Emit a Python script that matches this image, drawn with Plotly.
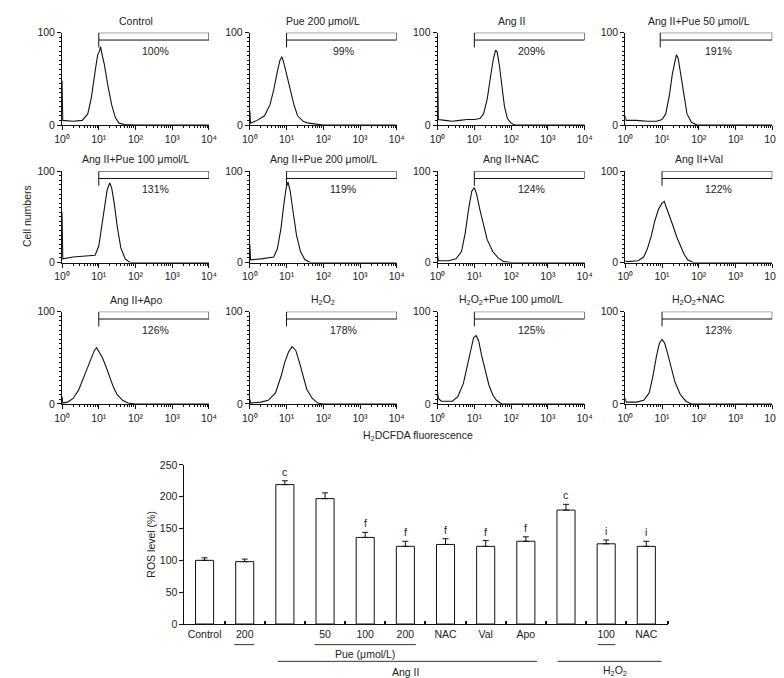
import plotly.graph_objects as go
import math

W, H = 784, 678

# ---------------- histogram data (x in log10 fluorescence, y = cell count %) ----------------
panel_titles = ["Control", "Pue 200 μmol/L", "Ang II", "Ang II+Pue 50 μmol/L",
                "Ang II+Pue 100 μmol/L", "Ang II+Pue 200 μmol/L", "Ang II+NAC", "Ang II+Val",
                "Ang II+Apo", "H<sub>2</sub>O<sub>2</sub>", "H<sub>2</sub>O<sub>2</sub>+Pue 100 μmol/L",
                "H<sub>2</sub>O<sub>2</sub>+NAC"]
panel_pct = ["100%", "99%", "209%", "191%", "131%", "119%", "124%", "122%", "126%", "178%", "125%", "123%"]

hx_control = [0, 0.02, 0.3, 0.55, 0.7, 0.8, 0.9, 0.97, 1.02, 1.05, 1.08, 1.15, 1.25, 1.35, 1.45, 1.55, 1.7, 2.0, 4.0]
hy_control = [48, 5, 4, 5, 12, 30, 58, 76, 80, 85, 78, 66, 42, 22, 8, 2, 0.5, 0, 0]
hx_pue200 = [0, 0.02, 0.2, 0.4, 0.55, 0.65, 0.75, 0.82, 0.87, 0.92, 1.0, 1.1, 1.2, 1.3, 1.45, 1.6, 1.8, 2.0, 4]
hy_pue200 = [15, 2, 5, 10, 22, 38, 58, 70, 74, 68, 55, 38, 22, 10, 4, 2, 1, 0, 0]
hx_ang = [0, 0.02, 0.2, 0.4, 0.6, 0.8, 1.0, 1.15, 1.25, 1.35, 1.45, 1.52, 1.58, 1.62, 1.68, 1.75, 1.82, 1.9, 2.0, 2.1, 4]
hy_ang = [60, 6, 5, 4, 5, 6, 6, 7, 12, 28, 55, 72, 81, 79, 65, 42, 20, 7, 2, 0, 0]
hx_ang_pue50 = [0, 0.02, 0.3, 0.6, 0.85, 1.0, 1.1, 1.2, 1.28, 1.35, 1.39, 1.44, 1.5, 1.58, 1.68, 1.8, 1.95, 4]
hy_ang_pue50 = [10, 5, 5, 4, 4, 6, 12, 32, 55, 70, 76, 72, 58, 35, 12, 3, 0, 0]
hx_ang_pue100 = [0, 0.02, 0.3, 0.6, 0.8, 0.9, 1.0, 1.08, 1.16, 1.23, 1.3, 1.35, 1.42, 1.5, 1.6, 1.72, 1.85, 4]
hy_ang_pue100 = [55, 4, 6, 7, 7, 8, 18, 40, 65, 80, 87, 82, 65, 40, 16, 4, 0, 0]
hx_ang_pue200 = [0, 0.02, 0.3, 0.5, 0.65, 0.75, 0.85, 0.93, 0.99, 1.04, 1.1, 1.18, 1.27, 1.38, 1.5, 1.65, 4]
hy_ang_pue200 = [20, 3, 4, 5, 6, 15, 38, 65, 82, 88, 78, 55, 30, 12, 3, 0, 0]
hx_ang_nac = [0, 0.02, 0.3, 0.5, 0.65, 0.75, 0.85, 0.93, 1.0, 1.06, 1.15, 1.25, 1.35, 1.5, 1.65, 1.8, 2.0, 4]
hy_ang_nac = [8, 2, 2, 4, 12, 32, 60, 78, 82, 75, 58, 40, 25, 12, 5, 1, 0, 0]
hx_ang_val = [0, 0.05, 0.35, 0.5, 0.6, 0.7, 0.8, 0.9, 1.0, 1.06, 1.12, 1.2, 1.3, 1.4, 1.5, 1.6, 1.7, 1.85, 4]
hy_ang_val = [2, 1, 2, 6, 15, 28, 45, 58, 65, 67, 60, 50, 40, 28, 18, 9, 3, 0, 0]
hx_ang_apo = [0, 0.02, 0.15, 0.3, 0.45, 0.6, 0.7, 0.8, 0.88, 0.94, 1.0, 1.1, 1.2, 1.3, 1.4, 1.5, 1.65, 1.8, 2.0, 4]
hy_ang_apo = [8, 1, 2, 6, 15, 30, 42, 52, 58, 61, 57, 50, 40, 28, 18, 10, 4, 1, 0, 0]
hx_h2o2 = [0, 0.02, 0.3, 0.5, 0.7, 0.85, 0.95, 1.05, 1.15, 1.25, 1.35, 1.45, 1.55, 1.7, 1.85, 2.0, 4]
hy_h2o2 = [5, 1, 2, 4, 12, 30, 45, 56, 62, 58, 45, 30, 16, 6, 1, 0, 0]
hx_h2o2_pue = [0, 0.02, 0.1, 0.25, 0.4, 0.55, 0.7, 0.8, 0.9, 0.98, 1.05, 1.12, 1.2, 1.3, 1.4, 1.5, 1.6, 1.75, 4]
hy_h2o2_pue = [12, 6, 3, 3, 3, 8, 22, 40, 60, 72, 74, 68, 52, 35, 20, 10, 4, 0, 0]
hx_h2o2_nac = [0, 0.02, 0.3, 0.5, 0.65, 0.75, 0.85, 0.93, 1.0, 1.07, 1.15, 1.25, 1.35, 1.5, 1.65, 1.8, 4]
hy_h2o2_nac = [6, 2, 2, 4, 12, 30, 52, 66, 70, 66, 55, 38, 24, 10, 3, 0, 0]

hist_x = [hx_control, hx_pue200, hx_ang, hx_ang_pue50, hx_ang_pue100, hx_ang_pue200,
          hx_ang_nac, hx_ang_val, hx_ang_apo, hx_h2o2, hx_h2o2_pue, hx_h2o2_nac]
hist_y = [hy_control, hy_pue200, hy_ang, hy_ang_pue50, hy_ang_pue100, hy_ang_pue200,
          hy_ang_nac, hy_ang_val, hy_ang_apo, hy_h2o2, hy_h2o2_pue, hy_h2o2_nac]

gate_start = [1.0, 1.0, 1.0, 0.95, 1.0, 1.0, 1.0, 1.0, 1.0, 1.0, 1.0, 1.0]
gate_end = 4.0
gate_top = 100
gate_mid = 92
gate_low = 84

decade_vals = [0, 1, 2, 3, 4]
decade_text = ["10⁰", "10¹", "10²", "10³", "10⁴"]

# ---------------- bar chart data ----------------
bar_labels = ["Control", "200", "", "50", "100", "200", "NAC", "Val", "Apo", "", "100", "NAC"]
ros_level = [100, 98, 219, 197, 136, 122, 125, 122, 130, 179, 126, 122]
ros_err = [4, 4, 6, 9, 8, 8, 9, 9, 7, 9, 6, 8]
sig_letters = ["", "", "c", "", "f", "f", "f", "f", "f", "c", "i", "i"]
y_ticks = [0, 50, 100, 150, 200, 250]

FONT = "Liberation Sans"
TXT = "#222"
LINE = "#111"
FS = 10.5

def fx(px):
    return px / W

def fy(py):
    return 1 - py / H

def note(**kw):
    d = dict(showarrow=False, xanchor="center", yanchor="middle", font=dict(size=FS, color=TXT))
    d.update(kw)
    return d

fig = go.Figure()
layout = dict(width=W, height=H, margin=dict(l=0, r=0, t=0, b=0),
              paper_bgcolor="white", plot_bgcolor="white", showlegend=False,
              font=dict(family=FONT, size=FS, color=TXT))
annotations = []
shapes = []

col_x0 = [47, 238.7, 430.4, 622]
row_top = [19, 160, 303]
row_bot = [113, 253, 397]
minor_x = [k + math.log10(m) for k in range(4) for m in range(2, 10)]

for i in range(12):
    r, c = divmod(i, 4)
    n = "" if i == 0 else str(i + 1)
    xa, ya = "x" + n, "y" + n
    x0 = col_x0[c]
    x1 = x0 + 150
    layout["xaxis" + n] = dict(domain=[fx(x0), fx(x1)], range=[0, 4], anchor=ya,
                               showline=True, linecolor=LINE, linewidth=1, showgrid=False,
                               zeroline=False, tickvals=decade_vals, ticktext=decade_text,
                               ticks="outside", ticklen=4, tickcolor=LINE,
                               tickfont=dict(size=FS, color=TXT),
                               minor=dict(tickvals=minor_x, ticks="outside", ticklen=2, tickcolor=LINE))
    layout["yaxis" + n] = dict(domain=[fy(row_bot[r]), fy(row_top[r])], range=[0, 100], anchor=xa,
                               showline=True, linecolor=LINE, linewidth=1, showgrid=False,
                               zeroline=False, tickvals=[0, 100], ticks="outside", ticklen=4,
                               tickcolor=LINE, tickfont=dict(size=FS, color=TXT),
                               minor=dict(dtick=5, ticks="outside", ticklen=2, tickcolor=LINE))
    fig.add_trace(go.Scatter(x=hist_x[i], y=hist_y[i], mode="lines", xaxis=xa, yaxis=ya,
                             line=dict(color=LINE, width=1.1), cliponaxis=False, hoverinfo="skip"))
    gs = gate_start[i]
    fig.add_trace(go.Scatter(x=[gs, gs, gate_end, gate_end, gs],
                             y=[gate_low, gate_top, gate_top, gate_mid, gate_mid],
                             mode="lines", xaxis=xa, yaxis=ya, cliponaxis=False,
                             line=dict(color=LINE, width=1), hoverinfo="skip"))
    annotations.append(note(x=2.55, y=80, xref=xa, yref=ya, text=panel_pct[i]))
    annotations.append(note(x=fx((x0 + x1) / 2), y=fy(row_top[r] - 12), xref="paper", yref="paper",
                            text=panel_titles[i]))

annotations.append(note(x=fx(12), y=fy(206), xref="paper", yref="paper", text="Cell numbers",
                        textangle=-90))
annotations.append(note(x=fx(410), y=fy(430), xref="paper", yref="paper",
                        text="H<sub>2</sub>DCFDA fluorescence"))

# ---------------- bar chart ----------------
bx0, bx1 = 172, 666
by_top, by_bot = 459, 621
xb, yb = "x13", "y13"
idx = list(range(len(ros_level)))
layout["xaxis13"] = dict(domain=[fx(bx0), fx(bx1)], range=[-0.5, 11.55], anchor=yb,
                         showline=True, linecolor=LINE, linewidth=1, showgrid=False, zeroline=False,
                         tickvals=idx, ticktext=bar_labels, ticks="", tickfont=dict(size=FS, color=TXT),
                         minor=dict(tickvals=[k + 0.5 for k in range(11)] + [11.55], ticks="inside",
                                    ticklen=3, tickcolor=LINE, tickwidth=2))
layout["yaxis13"] = dict(domain=[fy(by_bot), fy(by_top)], range=[0, 250], anchor=xb,
                         showline=True, linecolor=LINE, linewidth=1, showgrid=False, zeroline=False,
                         tickvals=y_ticks, ticks="outside", ticklen=4, tickcolor=LINE,
                         tickfont=dict(size=FS, color=TXT))
fig.add_trace(go.Bar(x=idx, y=ros_level, xaxis=xb, yaxis=yb, width=0.45,
                     marker=dict(color="white", line=dict(color=LINE, width=1)),
                     error_y=dict(type="data", array=ros_err, arrayminus=[0] * len(ros_err),
                                  symmetric=False, color=LINE, thickness=1, width=3),
                     hoverinfo="skip"))
for i, letter in enumerate(sig_letters):
    if letter:
        annotations.append(note(x=i, y=ros_level[i] + ros_err[i], xref=xb, yref=yb, text=letter,
                                yanchor="bottom", yshift=1))

annotations.append(note(x=fx(138), y=fy(540), xref="paper", yref="paper", text="ROS level (%)",
                        textangle=-90))

# group brackets below the bar chart (x in bar index units)
group_lines = [(0.74, 1.23, 642), (2.74, 5.26, 642), (9.79, 10.23, 642), (1.82, 8.28, 659), (8.79, 11.38, 659)]
for a, b, py in group_lines:
    shapes.append(dict(type="line", xref=xb, yref="paper", x0=a, x1=b, y0=fy(py), y1=fy(py),
                       line=dict(color="#333", width=1)))
group_texts = [(4.0, 652, "Pue (μmol/L)"), (5.0, 670, "Ang II"), (10.23, 669, "H<sub>2</sub>O<sub>2</sub>")]
for gx, py, t in group_texts:
    annotations.append(note(x=gx, y=fy(py), xref=xb, yref="paper", text=t))

layout["annotations"] = annotations
layout["shapes"] = shapes
fig.update_layout(**layout)
fig.write_html("out.html")
